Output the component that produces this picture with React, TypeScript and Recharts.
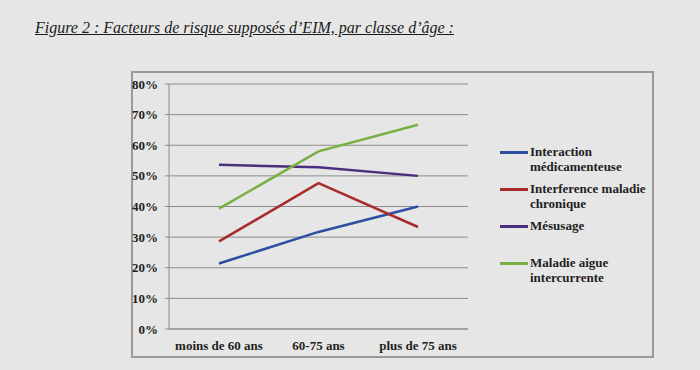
import React from 'react';
import { LineChart, Line, XAxis, YAxis, CartesianGrid } from 'recharts';

const categories = ['moins de 60 ans', '60-75 ans', 'plus de 75 ans'];
const interaction = [21.4, 31.7, 40];
const interference = [28.6, 47.6, 33.3];
const mesusage = [53.6, 52.8, 50];
const maladie = [39.3, 58, 66.7];
const yTicks = [0, 10, 20, 30, 40, 50, 60, 70, 80];

const SERIES = [
  { key: 'interaction', label: ['Interaction', 'médicamenteuse'], color: '#2c4f9f' },
  { key: 'interference', label: ['Interference maladie', 'chronique'], color: '#a82c2c' },
  { key: 'mesusage', label: ['Mésusage'], color: '#4b2f7f' },
  { key: 'maladie', label: ['Maladie aigue', 'intercurrente'], color: '#78b043' },
];

const data = categories.map((name, i) => ({
  name,
  interaction: interaction[i],
  interference: interference[i],
  mesusage: mesusage[i],
  maladie: maladie[i],
}));

const font = '"Liberation Serif", "Times New Roman", serif';
const tickStyle = { fontFamily: font, fontSize: 13, fontWeight: 700, fill: '#1e1e1e' };

export default function App() {
  return (
    <div style={{ position: 'absolute', left: 0, top: 0, width: 700, height: 370, background: '#e6e6e6', overflow: 'hidden' }}>
      {/* title */}
      <div style={{ position: 'absolute', left: 35, top: 19, fontFamily: font, fontStyle: 'italic', fontSize: 16, color: '#1a1a1a', textDecoration: 'underline', whiteSpace: 'nowrap' }}>
        Figure 2 : Facteurs de risque supposés d’EIM, par classe d’âge :
      </div>

      {/* chart frame */}
      <div style={{ position: 'absolute', left: 131, top: 71, width: 519, height: 283, border: '2px solid #9a9a9a' }} />

      <div style={{ position: 'absolute', left: 0, top: 0 }}>
        <LineChart width={700} height={370} data={data} margin={{ top: 84, right: 232, bottom: 11, left: 129 }}>
          <CartesianGrid xAxisId="cat" vertical={false} stroke="#8c8c8c" strokeWidth={1} />
          <XAxis xAxisId="marks" type="number" domain={[0, 3]} ticks={[0, 1, 2, 3]} tick={false}
            height={0} tickSize={5} axisLine={false} tickLine={{ stroke: '#8c8c8c' }} allowDataOverflow />
          <XAxis xAxisId="cat" dataKey="name" height={30} padding={{ left: 50, right: 50 }}
            tickLine={false} axisLine={{ stroke: '#8c8c8c' }} tick={tickStyle} tickMargin={6} interval={0} />
          <YAxis domain={[0, 80]} ticks={yTicks} width={40} tickFormatter={(v) => `${v}%`}
            tick={tickStyle} tickSize={4} tickMargin={7} axisLine={{ stroke: '#8c8c8c' }} tickLine={{ stroke: '#8c8c8c' }} />
          {SERIES.map((s) => (
            <Line key={s.key} xAxisId="cat" type="linear" dataKey={s.key} stroke={s.color} strokeWidth={2.5}
              dot={false} isAnimationActive={false} />
          ))}
        </LineChart>
      </div>

      {/* legend */}
      <div style={{ position: 'absolute', left: 500, top: 144 }}>
        {SERIES.map((s) => (
          <div key={s.key} style={{ display: 'flex', alignItems: 'flex-start', height: 37 }}>
            <div style={{ width: 28, height: 2.5, background: s.color, marginTop: 7, marginRight: 2 }} />
            <div style={{ fontFamily: font, fontSize: 13, fontWeight: 700, color: '#1e1e1e', lineHeight: '15px' }}>
              {s.label.map((l) => <div key={l}>{l}</div>)}
            </div>
          </div>
        ))}
      </div>
    </div>
  );
}
